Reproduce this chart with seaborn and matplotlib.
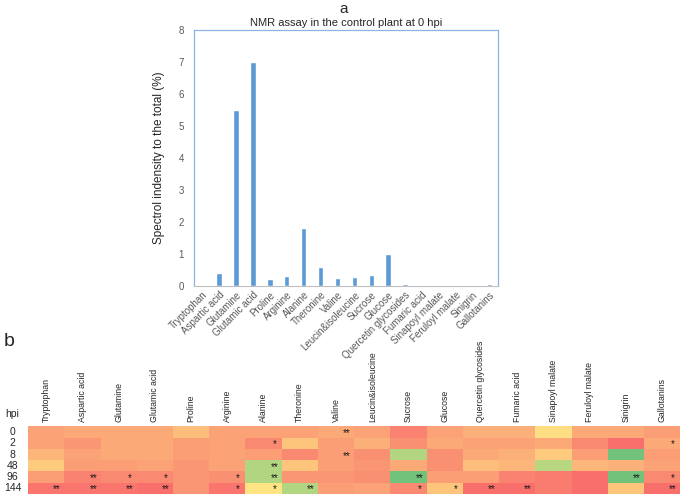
"""NMR assay: control plant bar chart (a) and time-course heatmap (b)."""
import matplotlib
matplotlib.use("Agg")
import matplotlib.pyplot as plt
from matplotlib.colors import LinearSegmentedColormap
import numpy as np
import pandas as pd
import seaborn as sns

sns.set_style("white")
plt.rcParams["font.family"] = ["Liberation Sans", "DejaVu Sans"]

compounds = [
    "Tryptophan", "Aspartic acid", "Glutamine", "Glutamic acid", "Proline",
    "Arginine", "Alanine", "Theronine", "Valine", "Leucin&isoleucine",
    "Sucrose", "Glucose", "Quercetin glycosides", "Fumaric acid",
    "Sinapoyl malate", "Feruloyl malate", "Sinigrin", "Gallotanins",
]
intensity = [0.02, 0.40, 5.50, 7.00, 0.20, 0.30, 1.82, 0.60, 0.23, 0.27,
             0.35, 0.98, 0.07, 0.02, 0.02, 0.02, 0.02, 0.05]

hpi = ["0", "2", "8", "48", "96", "144"]
# colour score per compound (-1 green, 0 yellow, 1 red), one list per time point
score_0 = [0.55, 0.50, 0.50, 0.50, 0.35, 0.55, 0.55, 0.55, 0.50, 0.55,
           0.80, 0.55, 0.45, 0.45, 0.10, 0.50, 0.50, 0.60]
score_2 = [0.55, 0.65, 0.50, 0.50, 0.60, 0.55, 0.75, 0.30, 0.60, 0.45,
           0.70, 0.50, 0.55, 0.55, 0.50, 0.75, 0.95, 0.50]
score_8 = [0.40, 0.55, 0.50, 0.50, 0.60, 0.55, 0.60, 0.75, 0.60, 0.70,
           -0.50, 0.70, 0.50, 0.45, 0.25, 0.60, -0.90, 0.60]
score_48 = [0.25, 0.60, 0.60, 0.55, 0.65, 0.55, -0.50, 0.30, 0.60, 0.65,
            0.50, 0.70, 0.35, 0.40, -0.45, 0.40, 0.45, 0.55]
score_96 = [0.60, 0.80, 0.75, 0.75, 0.65, 0.70, -0.50, 0.65, 0.65, 0.70,
            -0.90, 0.60, 0.60, 0.80, 0.85, 0.95, -0.90, 0.75]
score_144 = [0.90, 0.90, 0.90, 0.95, 0.65, 0.90, 0.05, -0.50, 0.60, 0.55,
             0.75, 0.30, 0.95, 0.95, 0.85, 0.95, 0.30, 0.95]

sig_0 = ["", "", "", "", "", "", "", "", "**", "", "", "", "", "", "", "", "", ""]
sig_2 = ["", "", "", "", "", "", "*", "", "", "", "", "", "", "", "", "", "", "*"]
sig_8 = ["", "", "", "", "", "", "", "", "**", "", "", "", "", "", "", "", "", ""]
sig_48 = ["", "", "", "", "", "", "**", "", "", "", "", "", "", "", "", "", "", ""]
sig_96 = ["", "**", "*", "*", "", "*", "**", "", "", "", "**", "", "", "", "", "", "**", "*"]
sig_144 = ["**", "**", "**", "**", "", "*", "*", "**", "", "", "*", "*", "**", "**", "", "", "", "**"]

scores = pd.DataFrame([score_0, score_2, score_8, score_48, score_96, score_144],
                      index=hpi, columns=compounds)
stars = [sig_0, sig_2, sig_8, sig_48, sig_96, sig_144]

fig = plt.figure(figsize=(6.85, 4.97), dpi=100)

# a: bar chart
ax = fig.add_axes([0.283, 0.425, 0.444, 0.515])
bars = pd.DataFrame({"compound": compounds, "value": intensity})
sns.barplot(data=bars, x="compound", y="value", color="#5B9BD5", width=0.32,
            saturation=1, ax=ax)
ax.set_ylim(0, 8)
ax.set_xlim(-0.5, len(compounds) - 0.5)
ax.set_yticks(range(0, 9))
ax.tick_params(axis="y", labelsize=7, colors="#595959", length=0, pad=7)
ax.tick_params(axis="x", labelsize=7, colors="#595959", length=0, pad=3)
ax.set_xticks(range(len(compounds)))
ax.set_xticklabels(compounds, rotation=45, ha="right", rotation_mode="anchor")
ax.set_xlabel("")
ax.set_ylabel("Spectrol indensity to the total (%)", fontsize=8.5, labelpad=10)
for side in ["top", "right", "left"]:
    ax.spines[side].set_color("#8EB4E3")
    ax.spines[side].set_linewidth(0.9)
ax.spines["bottom"].set_color("#BFBFBF")
ax.set_title("NMR assay in the control plant at 0 hpi", fontsize=8, pad=3)
fig.text(0.502, 0.996, "a", fontsize=11, ha="center", va="top")

# b: heatmap
cmap = LinearSegmentedColormap.from_list("ryg", ["#63BE7B", "#FFEB84", "#F8696B"])
hx = fig.add_axes([0.041, 0.006, 0.952, 0.136])
sns.heatmap(scores, cmap=cmap, vmin=-1, vmax=1, cbar=False, ax=hx,
            linewidths=0, xticklabels=True, yticklabels=True)
for i, row in enumerate(stars):
    for j, s in enumerate(row):
        if s:
            hx.text(j + 0.8, i + 0.6, s, ha="center", va="center",
                    fontsize=7, color="#1a1a1a")
hx.xaxis.tick_top()
hx.set_xticks(np.arange(len(compounds)) + 0.5)
hx.set_xticklabels(compounds, rotation=90, fontsize=6.3, va="bottom")
hx.set_yticks(np.arange(len(hpi)) + 0.5)
hx.set_yticklabels(hpi, rotation=0, fontsize=7.5, ha="center")
hx.tick_params(axis="x", length=0, pad=3)
hx.tick_params(axis="y", length=0, pad=11)
hx.set_xlabel("")
hx.set_ylabel("")
fig.text(0.018, 0.157, "hpi", fontsize=7.5, ha="center", va="bottom")
fig.text(0.006, 0.312, "b", fontsize=14, ha="left", va="center")

fig.savefig("out.png", dpi=100)
